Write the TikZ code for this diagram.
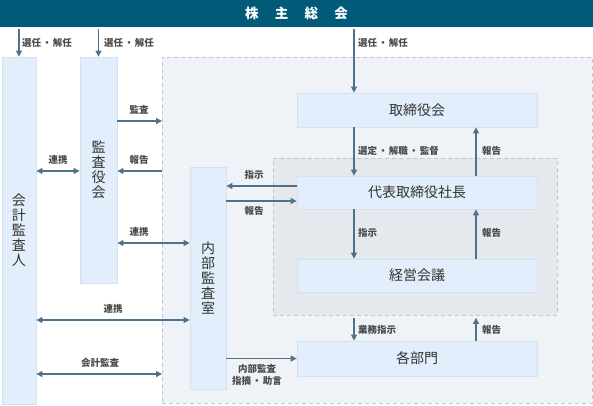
\documentclass[tikz,border=0pt]{standalone}
\usepackage{fontspec}
\newfontfamily\jp{Noto Sans CJK JP}
\usetikzlibrary{arrows.meta,calc}
\definecolor{barc}{HTML}{015A78}
\definecolor{boxfill}{HTML}{E2EEFB}
\definecolor{boxline}{HTML}{D3E1F0}
\definecolor{regfill}{HTML}{EFF3F7}
\definecolor{inregfill}{HTML}{E5E9ED}
\definecolor{regline}{HTML}{BCCAD5}
\definecolor{arrc}{HTML}{4F7189}
\definecolor{txt}{HTML}{333333}
\definecolor{lbltxt}{HTML}{4A4A4A}
\newcommand\ngr{\hspace{0.12em}・\hspace{0.12em}}
\begin{document}
\begin{tikzpicture}[x=1pt,y=-1pt,
  box/.style={draw=boxline, fill=boxfill, line width=0.8pt, inner sep=0pt,
    font=\jp\fontsize{14}{15}\selectfont, text=txt, align=center},
  region/.style={draw=regline, line width=0.9pt, dash pattern=on 4pt off 3pt, inner sep=0pt, anchor=north west},
  lbl/.style={font=\jp\bfseries\fontsize{9.5}{12}\selectfont, text=lbltxt, inner sep=1pt, align=center},
  arr/.style={draw=arrc, line width=1.2pt, -{Triangle[length=6pt,width=6pt]}},
  darr/.style={draw=arrc, line width=1.2pt, {Triangle[length=6pt,width=6pt]}-{Triangle[length=6pt,width=6pt]}}
]
\useasboundingbox (0,0) rectangle (593,405);
% top bar
\node[fill=barc, minimum width=593pt, minimum height=27pt, inner sep=0pt, text=white,
  font=\jp\bfseries\fontsize{13.5}{13.5}\selectfont] (bar) at (296.5,13.5)
  {株\hspace{1.2em}主\hspace{1.2em}総\hspace{1.2em}会};
% regions
\node[region, fill=regfill, minimum width=430pt, minimum height=346pt] (outer) at (162,57) {};
\node[region, fill=inregfill, minimum width=284pt, minimum height=157pt] (inner) at (273,158) {};
% boxes
\node[box, minimum width=34pt, minimum height=347pt] (kaikei) at (19,230.5) {会\\計\\監\\査\\人};
\node[box, minimum width=37pt, minimum height=226pt] (kansa) at (98.5,170) {監\\査\\役\\会};
\node[box, minimum width=36pt, minimum height=222pt] (naibu) at (208,278) {内\\部\\監\\査\\室};
\node[box, minimum width=240pt, minimum height=34pt] (tori) at (417,110) {取締役会};
\node[box, minimum width=240pt, minimum height=33pt] (daihyo) at (417,192.5) {代表取締役社長};
\node[box, minimum width=240pt, minimum height=33pt] (keiei) at (417,275.5) {経営会議};
\node[box, minimum width=240pt, minimum height=35pt] (kakubu) at (417,358.5) {各部門};
\coordinate (lx) at (354,0);
\coordinate (rx) at (476,0);
% from shareholders
\draw[arr, shorten <=2pt] (bar.south -| kaikei.north) -- (kaikei.north);
\draw[arr, shorten <=2pt] (bar.south -| kansa.north) -- (kansa.north);
\draw[arr, shorten <=2pt] (bar.south -| lx) -- (tori.north -| lx);
\node[lbl, anchor=west] (l1) at (21,43) {選任\ngr 解任};
\node[lbl, anchor=west] (l2) at (103,43) {選任\ngr 解任};
\node[lbl, anchor=west] (l3) at (357,43) {選任\ngr 解任};
% audit board
\draw[arr] (kansa.east |- 0,121) -- (outer.west |- 0,121);
\node[lbl] (l4) at (139,110) {監査};
\draw[arr] (outer.west |- 0,171) -- (kansa.east |- 0,171);
\node[lbl] (l5) at (139,160) {報告};
\draw[darr] (kaikei.east |- 0,171) -- (kansa.west |- 0,171);
\node[lbl] (l6) at (58,160) {連携};
\draw[darr] (kansa.east |- 0,243) -- (naibu.west |- 0,243);
\node[lbl] (l7) at (139,232) {連携};
\draw[darr] (kaikei.east |- 0,320) -- (naibu.west |- 0,320);
\node[lbl] (l8) at (113,309) {連携};
\draw[darr] (kaikei.east |- 0,374) -- (outer.west |- 0,374);
\node[lbl] (l9) at (100,363) {会計監査};
% internal audit
\draw[arr] (naibu.east |- kakubu.west) -- (kakubu.west);
\node[lbl] (l10) at (257,375) {内部監査\\指摘\ngr 助言};
\draw[arr] (daihyo.west |- 0,186) -- (naibu.east |- 0,186);
\node[lbl] (l11) at (254,175) {指示};
\draw[arr] (naibu.east |- 0,201) -- (daihyo.west |- 0,201);
\node[lbl] (l12) at (254,211) {報告};
% executive chain
\draw[arr] (tori.south -| lx) -- (daihyo.north -| lx);
\node[lbl, anchor=west] (l13) at (357,151) {選定\ngr 解職\ngr 監督};
\draw[arr] (daihyo.north -| rx) -- (tori.south -| rx);
\node[lbl, anchor=west] (l14) at (481,151) {報告};
\draw[arr] (daihyo.south -| lx) -- (keiei.north -| lx);
\node[lbl, anchor=west] (l15) at (357,233) {指示};
\draw[arr] (keiei.north -| rx) -- (daihyo.south -| rx);
\node[lbl, anchor=west] (l16) at (481,233) {報告};
\draw[arr, shorten <=2pt] (inner.south -| lx) -- (kakubu.north -| lx);
\node[lbl, anchor=west] (l17) at (357,330) {業務指示};
\draw[arr, shorten >=2pt] (kakubu.north -| rx) -- (inner.south -| rx);
\node[lbl, anchor=west] (l18) at (481,330) {報告};
\end{tikzpicture}
\end{document}
